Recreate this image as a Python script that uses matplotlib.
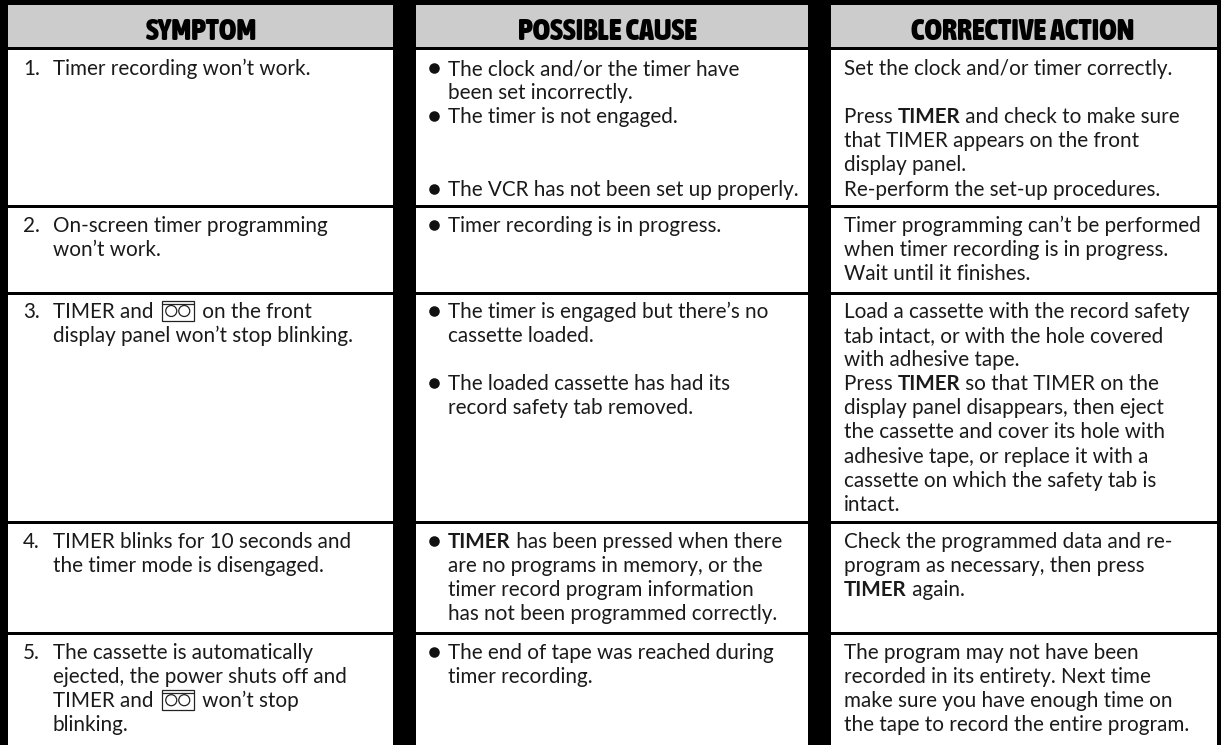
import matplotlib
matplotlib.use("Agg")
import matplotlib.pyplot as plt
from matplotlib.patches import Rectangle, Circle

W, H = 1221, 745
headers = ["SYMPTOM", "POSSIBLE CAUSE", "CORRECTIVE ACTION"]
numbers = ["1.", "2.", "3.", "4.", "5."]
symptoms = [
    ["Timer recording won’t work."],
    ["On-screen timer programming", "won’t work."],
    ["TIMER and @ on the front", "display panel won’t stop blinking."],
    ["TIMER blinks for 10 seconds and", "the timer mode is disengaged."],
    ["The cassette is automatically", "ejected, the power shuts off and", "TIMER and @ won’t stop", "blinking."],
]
causes = [
    ["• The clock and/or the timer have", "  been set incorrectly.", "• The timer is not engaged.", "", "", "• The VCR has not been set up properly."],
    ["• Timer recording is in progress."],
    ["• The timer is engaged but there’s no", "  cassette loaded.", "", "• The loaded cassette has had its", "  record safety tab removed."],
    ["• *TIMER* has been pressed when there", "  are no programs in memory, or the", "  timer record program information", "  has not been programmed correctly."],
    ["• The end of tape was reached during", "  timer recording."],
]
actions = [
    ["Set the clock and/or timer correctly.", "", "Press *TIMER* and check to make sure", "that TIMER appears on the front", "display panel.", "Re-perform the set-up procedures."],
    ["Timer programming can’t be performed", "when timer recording is in progress.", "Wait until it finishes."],
    ["Load a cassette with the record safety", "tab intact, or with the hole covered", "with adhesive tape.", "Press *TIMER* so that TIMER on the", "display panel disappears, then eject", "the cassette and cover its hole with", "adhesive tape, or replace it with a", "cassette on which the safety tab is", "intact."],
    ["Check the programmed data and re-", "program as necessary, then press", "*TIMER* again."],
    ["The program may not have been", "recorded in its entirety. Next time", "make sure you have enough time on", "the tape to record the entire program."],
]

FONT = "Lato"
FS = 14.9
PITCH = 24.1
INK = "#1a1a1a"
col_x = [(7.5, 393), (416, 808), (831, 1217)]
head_x = [201, 607.5, 1022.5]
row_top = [49.5, 208, 295, 524, 635]
row_bot = [205, 291.5, 520.5, 632, H]
row_base = [75, 232, 318, 548, 659]

fig = plt.figure(figsize=(W / 100, H / 100), dpi=100, facecolor="black")
ax = fig.add_axes([0, 0, 1, 1])
ax.set_xlim(0, W)
ax.set_ylim(H, 0)
ax.axis("off")
rend = fig.canvas.get_renderer()


def run(x, y, s):
    parts = s.split("*")
    for i, part in enumerate(parts):
        segs = part.split("@")
        for j, seg in enumerate(segs):
            if seg:
                t = ax.text(x, y, seg.replace(" ", "\u00a0"), family=FONT, fontsize=FS, va="baseline", ha="left",
                            color=INK, weight="bold" if i % 2 else "normal")
                x += t.get_window_extent(rend).width
            if j < len(segs) - 1:
                ax.add_patch(Rectangle((x + 3, y - 17), 32, 20, fc="none", ec="#222222", lw=0.9))
                ax.plot([x + 4, x + 34], [y - 14] * 2, color="#222222", lw=0.9)
                for cx in (x + 12.5, x + 25.5):
                    ax.add_patch(Circle((cx, y - 7), 5.5, fc="none", ec="#222222", lw=0.9))
                x += 38


for (x0, x1), hx, head in zip(col_x, head_x, headers):
    ax.add_patch(Rectangle((x0, 5), x1 - x0, 42, fc="#cccccc", ec="none"))
    ax.text(hx, 40, head, family=["Asap Condensed", "DejaVu Sans"], weight=900,
            fontsize=21.5, ha="center", va="baseline", color="black")
    for top, bot in zip(row_top, row_bot):
        ax.add_patch(Rectangle((x0, top), x1 - x0, bot - top, fc="white", ec="none"))

for r in range(5):
    base = row_base[r]
    ax.text(23, base, numbers[r], family=FONT, fontsize=FS, va="baseline", color=INK)
    for i, line in enumerate(symptoms[r]):
        run(53, base + i * PITCH, line)
    for i, line in enumerate(causes[r]):
        if line.startswith("• "):
            ax.plot([433.5], [base + i * PITCH - 7], "o", ms=7.6, color="#111111", mew=0)
            run(448, base + i * PITCH, line[2:])
        elif line:
            run(448, base + i * PITCH, line.strip())
    for i, line in enumerate(actions[r]):
        run(844, base + i * PITCH, line)

fig.savefig("out.png", dpi=100, facecolor="black")
